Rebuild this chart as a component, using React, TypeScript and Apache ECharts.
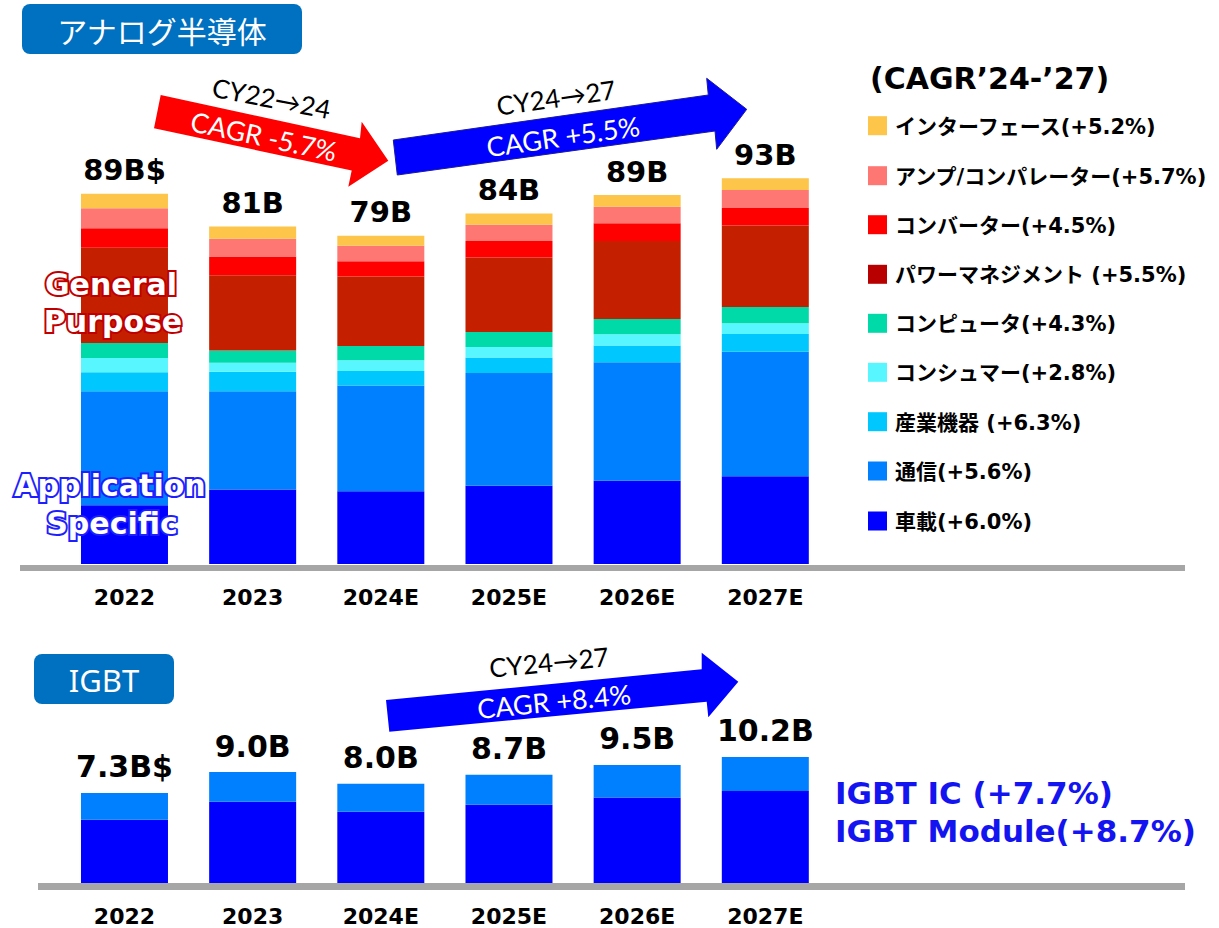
import React, { useEffect, useRef } from 'react';
import * as echarts from 'echarts';

const years = ['2022', '2023', '2024E', '2025E', '2026E', '2027E'];

// Analog semiconductor segments (B$)
const automotive = [14.1, 17.9, 17.5, 18.8, 20.0, 21.1];
const communication = [27.4, 23.6, 25.4, 27.1, 28.5, 29.9];
const industrial = [4.6, 4.7, 3.5, 3.75, 4.0, 4.3];
const consumer = [3.4, 2.2, 2.6, 2.5, 2.7, 2.6];
const computer = [3.6, 2.9, 3.4, 3.6, 3.7, 3.9];
const powerMgmt = [22.9, 18.1, 16.7, 17.9, 18.75, 19.6];
const converter = [4.7, 4.5, 3.7, 4.0, 4.25, 4.2];
const ampComparator = [4.8, 4.3, 3.7, 3.9, 4.0, 4.3];
const interfaceIC = [3.5, 2.9, 2.4, 2.7, 2.8, 2.8];
const analogTotals = ['89B$', '81B', '79B', '84B', '89B', '93B'];

// IGBT (B$)
const igbtModule = [5.13, 6.59, 5.77, 6.34, 6.94, 7.46];
const igbtIC = [2.17, 2.41, 2.28, 2.44, 2.63, 2.76];
const igbtTotals = ['7.3B$', '9.0B', '8.0B', '8.7B', '9.5B', '10.2B'];

const analogNames = ['車載', '通信', '産業機器', 'コンシュマー', 'コンピュータ', 'パワーマネジメント', 'コンバーター', 'アンプ/コンパレーター', 'インターフェース'];
const analogData = [automotive, communication, industrial, consumer, computer, powerMgmt, converter, ampComparator, interfaceIC];
const analogColors = ['#0000FF', '#0080FF', '#00C8FF', '#58F6FF', '#00D9A8', '#C42000', '#FF0000', '#FF7773', '#FDC54A'];

const legendLabels = ['インターフェース(+5.2%)', 'アンプ/コンパレーター(+5.7%)', 'コンバーター(+4.5%)', 'パワーマネジメント (+5.5%)', 'コンピュータ(+4.3%)', 'コンシュマー(+2.8%)', '産業機器 (+6.3%)', '通信(+5.6%)', '車載(+6.0%)'];
const legendColors = ['#FDC54A', '#FF7773', '#FF0000', '#B80000', '#00D9A8', '#58F6FF', '#00C8FF', '#0080FF', '#0000FF'];

const igbtNames = ['IGBT Module', 'IGBT IC'];
const igbtLegend = ['IGBT IC (+7.7%)', 'IGBT Module(+8.7%)'];

const LATIN = "'DejaVu Sans', 'Noto Sans CJK JP', sans-serif";
const CJK = "'Noto Sans CJK JP', sans-serif";
const ARROWFONT = "Lato, 'DejaVu Sans', sans-serif";

function buildOption() {
  const series: any[] = [];
  analogData.forEach((d, i) => {
    const s: any = {
      name: analogNames[i],
      type: 'bar',
      stack: 'analog',
      xAxisIndex: 0,
      yAxisIndex: 0,
      barWidth: 87,
      data: d,
      itemStyle: { color: analogColors[i] },
    };
    if (i === analogData.length - 1) {
      s.label = {
        show: true,
        position: 'top',
        distance: 9,
        formatter: (p: any) => analogTotals[p.dataIndex],
        fontSize: 29,
        fontWeight: 'bold',
        fontFamily: LATIN,
        color: '#000',
      };
    }
    series.push(s);
  });
  [igbtModule, igbtIC].forEach((d, i) => {
    const s: any = {
      name: igbtNames[i],
      type: 'bar',
      stack: 'igbt',
      xAxisIndex: 1,
      yAxisIndex: 1,
      barWidth: 87,
      data: d,
      itemStyle: { color: i === 0 ? '#0000FF' : '#0080FF' },
    };
    if (i === 1) {
      s.label = {
        show: true,
        position: 'top',
        distance: 11,
        formatter: (p: any) => igbtTotals[p.dataIndex],
        fontSize: 30,
        fontWeight: 'bold',
        fontFamily: LATIN,
        color: '#000',
      };
    }
    series.push(s);
  });

  const axisLabel = { fontSize: 22, fontWeight: 'bold', fontFamily: LATIN, color: '#000', margin: 22 };

  const graphic: any[] = [];
  // header boxes
  graphic.push({ type: 'rect', shape: { x: 22, y: 4, width: 280, height: 50, r: 8 }, style: { fill: '#0070C0' } });
  graphic.push({ type: 'text', x: 162, y: 30, style: { text: 'アナログ半導体', fill: '#fff', fontSize: 30, fontFamily: CJK, align: 'center', verticalAlign: 'middle' } });
  graphic.push({ type: 'rect', shape: { x: 34, y: 654, width: 140, height: 50, r: 8 }, style: { fill: '#0070C0' } });
  graphic.push({ type: 'text', x: 104, y: 680, style: { text: 'IGBT', fill: '#fff', fontSize: 31, fontFamily: "'Noto Sans', sans-serif", align: 'center', verticalAlign: 'middle' } });

  // baselines
  graphic.push({ type: 'rect', shape: { x: 20, y: 565, width: 1165, height: 6 }, style: { fill: '#A6A6A6' } });
  graphic.push({ type: 'rect', shape: { x: 38, y: 883, width: 1147, height: 7 }, style: { fill: '#A6A6A6' } });

  // arrows
  graphic.push({ type: 'polygon', shape: { points: [[160.7, 95], [360, 138.3], [361.7, 121.7], [388.3, 160.7], [348.3, 186.7], [351.7, 170.5], [154, 128.3]] }, style: { fill: '#FF0000' } });
  graphic.push({ type: 'polygon', shape: { points: [[393.3, 140], [708.3, 95], [706.7, 78.3], [746.7, 109.3], [716.7, 149.3], [715, 131], [397.3, 175]] }, style: { fill: '#0000FF', stroke: '#1A1AA0', lineWidth: 1 } });
  graphic.push({ type: 'polygon', shape: { points: [[386, 700], [701.7, 669.3], [701.7, 652.7], [738.3, 681.7], [708.3, 717.3], [706.7, 701.7], [389.3, 731.7]] }, style: { fill: '#0000FF' } });

  const arrowText = (text: string, x: number, y: number, rot: number, fill: string, size: number) => ({
    type: 'text', x, y, rotation: rot, z: 10,
    style: { text, fill, fontSize: size, fontFamily: ARROWFONT, align: 'center', verticalAlign: 'middle' },
  });
  graphic.push(arrowText('CY22→24', 271.5, 98, -0.19, '#000', 26));
  graphic.push(arrowText('CAGR -5.7%', 264, 136, -0.21, '#fff', 27));
  graphic.push(arrowText('CY24→27', 556, 97.5, 0.14, '#000', 26));
  graphic.push(arrowText('CAGR +5.5%', 563, 136, 0.14, '#fff', 27));
  graphic.push(arrowText('CY24→27', 549, 662, 0.097, '#000', 26));
  graphic.push(arrowText('CAGR +8.4%', 554, 701, 0.097, '#fff', 27));

  // General purpose / Application specific
  const glowText = (text: string, x: number, y: number, glow: string) => ({
    type: 'text', x, y, z: 20,
    style: {
      text, fill: '#fff', fontSize: 30, fontWeight: 'bold', fontFamily: LATIN,
      align: 'center', verticalAlign: 'middle', stroke: glow, lineWidth: 4,
      strokeFirst: true, shadowBlur: 5, shadowColor: glow,
    },
  });
  graphic.push(glowText('General', 111, 284, '#C00000'));
  graphic.push(glowText('Purpose', 113, 321, '#C00000'));
  graphic.push(glowText('Application', 110, 485, '#1E1EFF'));
  graphic.push(glowText('Specific', 112, 523, '#1E1EFF'));

  // legend
  graphic.push({ type: 'text', x: 870, y: 78, style: { text: '(CAGR’24-’27)', fill: '#000', fontSize: 30, fontWeight: 'bold', fontFamily: LATIN, align: 'left', verticalAlign: 'middle' } });
  const legendY = [125.7, 175.7, 224.7, 274.3, 323.3, 372.3, 421.7, 471, 521];
  legendLabels.forEach((t, i) => {
    graphic.push({ type: 'rect', shape: { x: 868, y: legendY[i] - 9.5, width: 19, height: 19 }, style: { fill: legendColors[i] } });
    graphic.push({ type: 'text', x: 895, y: legendY[i] + 1, style: { text: t, fill: '#000', fontSize: 21, fontWeight: 'bold', fontFamily: LATIN, align: 'left', verticalAlign: 'middle' } });
  });
  graphic.push({ type: 'text', x: 835, y: 793, style: { text: igbtLegend[0], fill: '#1414F0', fontSize: 31, fontWeight: 'bold', fontFamily: LATIN, align: 'left', verticalAlign: 'middle' } });
  graphic.push({ type: 'text', x: 835, y: 831, style: { text: igbtLegend[1], fill: '#1414F0', fontSize: 31, fontWeight: 'bold', fontFamily: LATIN, align: 'left', verticalAlign: 'middle' } });

  return {
    animation: false,
    backgroundColor: '#fff',
    grid: [
      { left: 60.4, width: 769, top: 148, height: 416 },
      { left: 60.4, width: 769, top: 735, height: 148 },
    ],
    xAxis: [
      { type: 'category', gridIndex: 0, data: years, axisLine: { show: false }, axisTick: { show: false }, axisLabel },
      { type: 'category', gridIndex: 1, data: years, axisLine: { show: false }, axisTick: { show: false }, axisLabel },
    ],
    yAxis: [
      { type: 'value', gridIndex: 0, min: 0, max: 100, show: false, splitLine: { show: false } },
      { type: 'value', gridIndex: 1, min: 0, max: 12, show: false, splitLine: { show: false } },
    ],
    series,
    graphic: { elements: graphic },
  };
}

export default function App() {
  const ref = useRef<HTMLDivElement>(null);
  useEffect(() => {
    if (!ref.current) return;
    const chart = echarts.init(ref.current, null, { renderer: 'svg' });
    chart.setOption(buildOption() as any);
    return () => chart.dispose();
  }, []);
  return <div ref={ref} style={{ position: 'absolute', left: 0, top: 0, width: 1219, height: 928, background: '#fff' }} />;
}
